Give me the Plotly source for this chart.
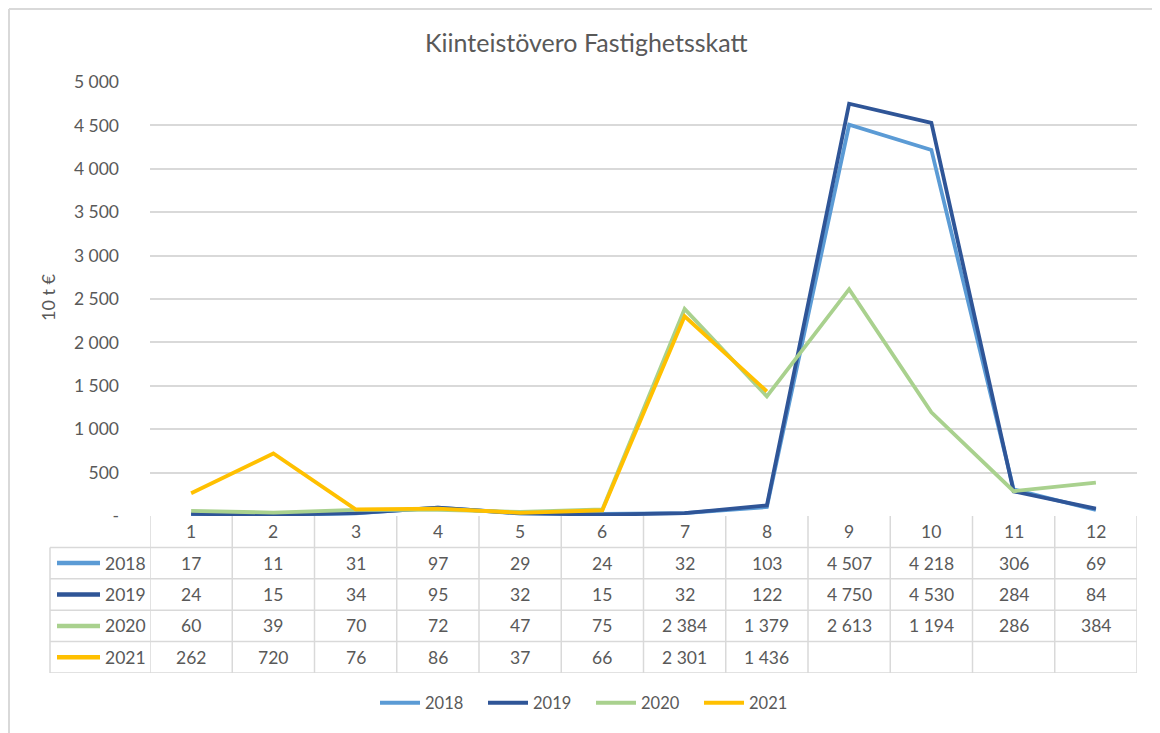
import plotly.graph_objects as go

months = list(range(1, 13))
years = ["2018", "2019", "2020", "2021"]
v2018 = [17, 11, 31, 97, 29, 24, 32, 103, 4507, 4218, 306, 69]
v2019 = [24, 15, 34, 95, 32, 15, 32, 122, 4750, 4530, 284, 84]
v2020 = [60, 39, 70, 72, 47, 75, 2384, 1379, 2613, 1194, 286, 384]
v2021 = [262, 720, 76, 86, 37, 66, 2301, 1436]
series = [v2018, v2019, v2020, v2021]
colors = ["#5B9BD5", "#2F5597", "#A9D18E", "#FFC000"]
ytickvals = [0, 500, 1000, 1500, 2000, 2500, 3000, 3500, 4000, 4500, 5000]
yticktext = ["-", "500", "1 000", "1 500", "2 000", "2 500", "3 000", "3 500", "4 000", "4 500", "5 000"]

W, H = 1160, 733
OFF = 8  # page body margin
FONT = "Lato"
TXT = "#595959"
GRID = "#D9D9D9"
FS = 17.5

def px(x):
    return (x - OFF) / W

def py(y):
    return (H - (y - OFF)) / H

fig = go.Figure()
for name, vals, c in zip(years, series, colors):
    fig.add_trace(go.Scatter(x=months[:len(vals)], y=vals, name=name, mode="lines",
                             line=dict(color=c, width=3.8), xaxis="x", yaxis="y"))

# invisible anchor for the table axis
fig.add_trace(go.Scatter(x=[1], y=[0.5], mode="markers", marker=dict(opacity=0),
                         showlegend=False, hoverinfo="skip", xaxis="x", yaxis="y2"))

shapes = []
annotations = []

# table vertical lines
for i in range(13):
    shapes.append(dict(type="line", xref="x", yref="y2", x0=0.5 + i, x1=0.5 + i, y0=0, y1=5,
                       line=dict(color=GRID, width=1.5)))
# horizontal lines
for r in range(5):
    shapes.append(dict(type="line", xref="paper", yref="y2", x0=px(50), x1=px(1137), y0=r, y1=r,
                       line=dict(color=GRID, width=1.5)))
shapes.append(dict(type="line", xref="paper", yref="y2", x0=px(50), x1=px(50), y0=0, y1=4,
                   line=dict(color=GRID, width=1.5)))

# header
for m in months:
    annotations.append(dict(x=m, y=4.5, xref="x", yref="y2", text=str(m), showarrow=False,
                            xanchor="center", yanchor="middle",
                            font=dict(size=FS, color=TXT, family=FONT)))
# rows
for k, (name, vals, c) in enumerate(zip(years, series, colors)):
    yrow = 3.5 - k
    shapes.append(dict(type="line", xref="paper", yref="y2", x0=px(57), x1=px(100), y0=yrow, y1=yrow,
                       line=dict(color=c, width=4.5)))
    annotations.append(dict(x=px(103), y=yrow, xref="paper", yref="y2", text=name, showarrow=False,
                            xanchor="left", yanchor="middle", font=dict(size=FS, color=TXT, family=FONT)))
    for m, v in zip(months, vals):
        annotations.append(dict(x=m, y=yrow, xref="x", yref="y2", text=f"{v:,}".replace(",", " "),
                                showarrow=False, xanchor="center", yanchor="middle",
                                font=dict(size=FS, color=TXT, family=FONT)))

# title and y-axis title
annotations.append(dict(x=px(586), y=py(42), xref="paper", yref="paper", text="Kiinteistövero Fastighetsskatt",
                        showarrow=False, xanchor="center", yanchor="middle",
                        font=dict(size=25, color=TXT, family=FONT)))
annotations.append(dict(x=px(48), y=py(297), xref="paper", yref="paper", text="10 t €", textangle=-90,
                        showarrow=False, xanchor="center", yanchor="middle",
                        font=dict(size=18, color=TXT, family=FONT)))

# outer chart border (top and left)
shapes.append(dict(type="line", xref="paper", yref="paper", x0=px(9), x1=1.01, y0=py(9), y1=py(9),
                   line=dict(color=GRID, width=2)))
shapes.append(dict(type="line", xref="paper", yref="paper", x0=px(9), x1=px(9), y0=-0.01, y1=py(9),
                   line=dict(color=GRID, width=2)))

fig.update_layout(
    width=W, height=H,
    margin=dict(l=0, r=0, t=0, b=0, autoexpand=False),
    paper_bgcolor="white", plot_bgcolor="white",
    font=dict(family=FONT, color=TXT),
    xaxis=dict(domain=[px(150), px(1137)], range=[0.5, 12.5], showgrid=False, zeroline=False,
               showticklabels=False, showline=False, fixedrange=True, automargin=False),
    yaxis=dict(domain=[py(516), py(82)], range=[0, 5000], tickvals=ytickvals, ticktext=yticktext,
               showgrid=True, gridcolor=GRID, gridwidth=1.5, zeroline=False, showline=False,
               tickfont=dict(size=FS, color=TXT, family=FONT), ticklabelstandoff=30, automargin=False),
    yaxis2=dict(domain=[py(673), py(516)], range=[0, 5], anchor="x", visible=False, fixedrange=True),
    legend=dict(orientation="h", x=px(375), xanchor="left", y=py(703), yanchor="middle",
                font=dict(size=16.5, color=TXT, family=FONT), itemwidth=40,
                entrywidth=53, entrywidthmode="pixels"),
    shapes=shapes,
    annotations=annotations,
    showlegend=True,
)

fig.write_html("out.html")
